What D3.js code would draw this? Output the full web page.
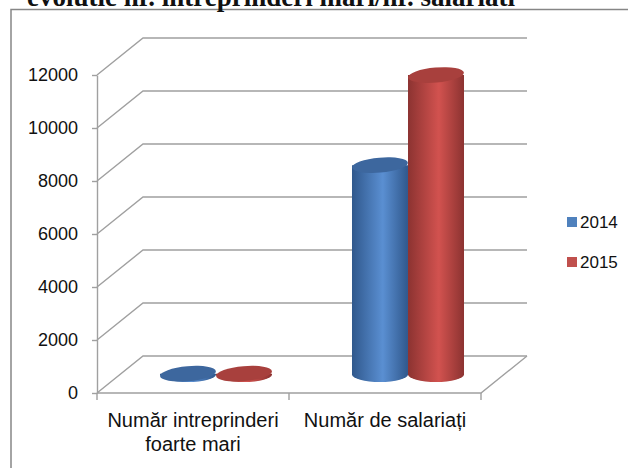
<!DOCTYPE html>
<html lang="ro">
<head>
<meta charset="UTF-8">
<title>evolutie nr. intreprinderi mari/nr. salariati</title>
<style>
    * { margin:0; padding:0; box-sizing:border-box; }
    body { background:#fff; }
    #chart { width:628px; height:468px; overflow:hidden; }
    text { font-family:"Liberation Sans", Arial, sans-serif; fill:#111; }
</style>
<script src="https://unpkg.com/d3@7.6.1/dist/d3.min.js"></script>
</head>
<body>
<div id="chart"></div>
<script>
    const title="evolutie nr. intreprinderi mari/nr. salariati";
    const categories=[["Număr intreprinderi","foarte mari"],["Număr de salariați"]];
    const series=["2014","2015"];
    const values2014=[30,7900];
    const values2015=[32,11300];
    const yTicks=[0,2000,4000,6000,8000,10000,12000];

    const width=628, height=468;
    const frontLeft=97, frontRight=481;
    const depthX=46, depthY=-37;
    const colors={
        "2014":{legend:"#4f81bd",dark:"#30588c",light:"#5a8fd2",top:"#3d679e"},
        "2015":{legend:"#c0504d",dark:"#8c3331",light:"#d2524f",top:"#a8403d"}
    };

    const catKeys=categories.map(c=>c.join(" "));
    const y=d3.scaleLinear([0,12000],[393,75]);
    const x=d3.scaleBand(catKeys,[frontLeft,frontRight]);
    const xs=d3.scaleBand(series,[0,x.bandwidth()]).paddingInner(0).paddingOuter(0.714);

    const svg=d3.select("#chart").append("svg")
        .attr("width",width).attr("height",height);

    // chart frame
    svg.append("rect")
        .attr("x",11).attr("y",9.5).attr("width",700).attr("height",520)
        .attr("fill","none").attr("stroke","#868686").attr("stroke-width",1.5);

    // title (cut by the top edge, as in the source)
    svg.append("text")
        .attr("x",27).attr("y",6)
        .style("font-family","'Liberation Serif', 'Times New Roman', serif")
        .style("font-weight","bold").style("font-size","27px")
        .text(title);

    const grid="#a0a0a0";
    // side wall + back wall gridlines
    svg.append("g").selectAll("path")
        .data(yTicks)
        .join("path")
        .attr("fill","none").attr("stroke",grid).attr("stroke-width",1.4)
        .attr("d",d=>`M${frontLeft},${y(d)}L${frontLeft+depthX},${y(d)+depthY}L${frontRight+depthX},${y(d)+depthY}`);

    // floor front + right edge
    svg.append("path")
        .attr("fill","none").attr("stroke",grid).attr("stroke-width",1.4)
        .attr("d",`M${frontLeft},${y(0)}L${frontRight},${y(0)}L${frontRight+depthX},${y(0)+depthY}`);

    // y axis
    svg.append("g")
        .attr("transform",`translate(${frontLeft},0)`)
        .call(d3.axisLeft(y).tickValues(yTicks).tickSize(5).tickSizeOuter(0).tickPadding(14).tickFormat(d3.format("d")))
        .call(g=>g.selectAll("path,line").attr("stroke",grid).attr("stroke-width",1.4))
        .call(g=>g.selectAll("text").style("font-size","18px").attr("fill","#111"));

    // category ticks + labels
    const edges=catKeys.map(c=>x(c)).concat([frontRight]);
    svg.append("g").selectAll("line")
        .data(edges)
        .join("line")
        .attr("x1",d=>d).attr("x2",d=>d)
        .attr("y1",y(0)).attr("y2",y(0)+7)
        .attr("stroke",grid).attr("stroke-width",1.4);
    svg.append("g").selectAll("text")
        .data(categories)
        .join("text")
        .attr("text-anchor","middle")
        .style("font-size","20px")
        .attr("transform",(d,i)=>`translate(${x(catKeys[i])+x.bandwidth()/2},427)`)
        .selectAll("tspan")
        .data(d=>d)
        .join("tspan")
        .attr("x",0).attr("y",(d,i)=>i*23.5)
        .text(d=>d);

    // gradients
    const defs=svg.append("defs");
    series.forEach(s=>{
        const g=defs.append("linearGradient").attr("id","grad"+s)
            .attr("x1","0%").attr("x2","100%").attr("y1","0%").attr("y2","0%");
        g.append("stop").attr("offset","0%").attr("stop-color",colors[s].dark);
        g.append("stop").attr("offset","55%").attr("stop-color",colors[s].light);
        g.append("stop").attr("offset","100%").attr("stop-color",colors[s].dark);
    });

    // cylinders
    const rx=28, ry=7.5, tilt=-5;
    const bars=[];
    series.forEach((s,si)=>{
        const vals=si===0?values2014:values2015;
        catKeys.forEach((c,ci)=>bars.push({s,c,v:vals[ci]}));
    });
    const bar=svg.append("g").selectAll("g")
        .data(bars)
        .join("g")
        .attr("transform",d=>`translate(${x(d.c)+xs(d.s)+xs.bandwidth()/2+depthX/2},0)`);
    const base=y(0)+depthY/2;
    bar.append("path")
        .attr("fill",d=>`url(#grad${d.s})`)
        .attr("d",d=>{
            const t=y(d.v)+depthY/2;
            return `M${-rx},${t}L${-rx},${base}A${rx},${ry} 0 0 0 ${rx},${base}L${rx},${t}Z`;
        });
    bar.append("ellipse")
        .attr("cx",0).attr("cy",d=>y(d.v)+depthY/2)
        .attr("rx",rx).attr("ry",ry)
        .attr("transform",d=>`rotate(${tilt},0,${y(d.v)+depthY/2})`)
        .attr("fill",d=>colors[d.s].top);

    // legend
    const legend=svg.append("g").selectAll("g")
        .data(series)
        .join("g")
        .attr("transform",(d,i)=>`translate(567,${217+i*40})`);
    legend.append("rect").attr("width",10).attr("height",10).attr("fill",d=>colors[d].legend);
    legend.append("text").attr("x",13).attr("y",10.5).style("font-size","17px").text(d=>d);
</script>
</body>
</html>
